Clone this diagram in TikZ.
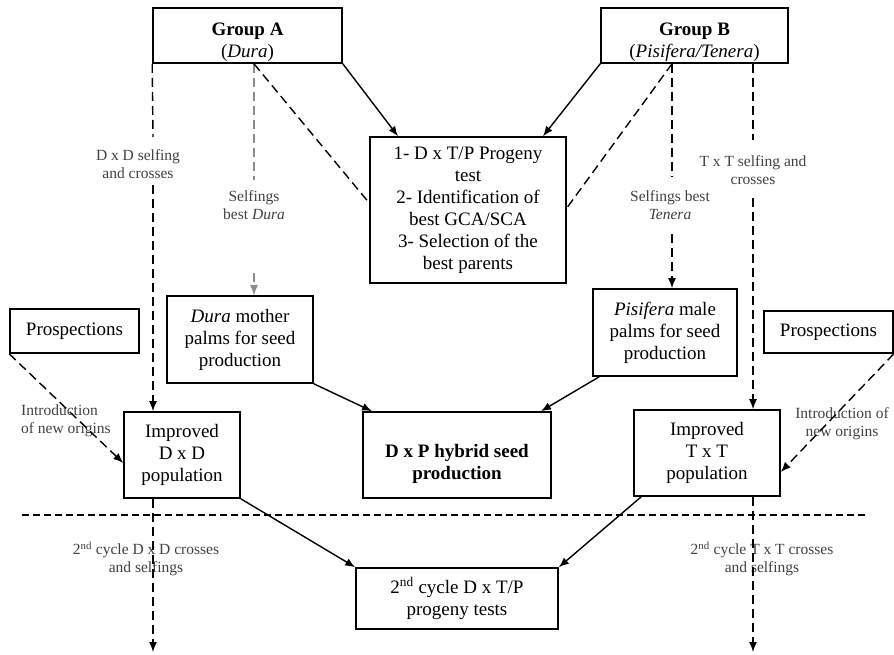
\documentclass[tikz,border=0pt]{standalone}
\usepackage{fontspec}
\setmainfont{Liberation Serif}
\usetikzlibrary{arrows.meta}

\begin{document}
\begin{tikzpicture}[x=1pt, y=-1pt,
		box/.style={draw, line width=1.6pt, inner sep=0pt, align=center, font=\fontsize{19}{22}\selectfont},
		lab/.style={align=center, inner sep=1pt, text=black!75, font=\fontsize{15.5}{18}\selectfont},
		tip/.style={-{Latex[length=10pt, width=8pt]}},
		link/.style={line width=1.4pt},
		dashlink/.style={line width=1.4pt, dash pattern=on 9pt off 5pt},
		graylink/.style={line width=1.2pt, black!45, dash pattern=on 9pt off 5pt}]
		\useasboundingbox (0,0) rectangle (894,654);
		% boxes
		\node [box, minimum width=189pt, minimum height=55pt] (groupA) at (247.5, 35.5) {\rule{0pt}{27pt}\textbf{Group A}\\(\textit{Dura})};
		\node [box, minimum width=187pt, minimum height=55pt] (groupB) at (694.5, 35.5) {\rule{0pt}{27pt}\textbf{Group B}\\(\textit{Pisifera/Tenera})};
		\node [box, minimum width=196pt, minimum height=146pt] (test) at (468, 210) {1- D x T/P Progeny\\test\\2- Identification of\\best GCA/SCA\\3- Selection of the\\best parents};
		\node [box, minimum width=146pt, minimum height=87pt] (dura) at (240, 339.5) {\textit{Dura} mother\\palms for seed\\production};
		\node [box, minimum width=144pt, minimum height=87pt] (pisif) at (665, 332.5) {\textit{Pisifera} male\\palms for seed\\production};
		\node [box, minimum width=129pt, minimum height=44pt] (prospL) at (74.5, 331) {Prospections};
		\node [box, minimum width=129pt, minimum height=42pt] (prospR) at (828.5, 332) {Prospections};
		\node [box, minimum width=116pt, minimum height=86pt] (impD) at (182, 455) {Improved\\D x D\\population};
		\node [box, minimum width=188pt, minimum height=86pt] (dxp) at (457, 455) {\rule{0pt}{31pt}\textbf{D x P hybrid seed}\\\textbf{production}};
		\node [box, minimum width=146pt, minimum height=86pt] (impT) at (707, 453) {Improved\\T x T\\population};
		\node [box, minimum width=202pt, minimum height=61pt] (cyc) at (457, 598.5) {2\textsuperscript{nd} cycle D x T/P\\progeny tests};
		% labels
		\node [lab] (dxdLab) at (138, 164) {D x D selfing\\and crosses};
		\node [lab] (dselLab) at (254, 205) {Selfings\\best \textit{Dura}};
		\node [lab] (tselLab) at (670, 205) {Selfings best\\\textit{Tenera}};
		\node [lab] (txtLab) at (753, 170) {T x T selfing and\\crosses};
		\node [lab, align=left, anchor=west] (introL) at (20, 421) {Introduction\\of new origins};
		\node [lab] (introR) at (842, 424) {Introduction of\\new origins};
		\node [lab] (cycDLab) at (146, 559) {2\textsuperscript{nd} cycle D x D crosses\\and selfings};
		\node [lab] (cycTLab) at (762, 559) {2\textsuperscript{nd} cycle T x T crosses\\and selfings};
		% gap ends of the labelled lines
		\coordinate (dxdTop) at (153, 137);
		\coordinate (dxdBot) at (153, 185);
		\coordinate (dselTop) at (254, 180);
		\coordinate (dselBot) at (254, 273);
		\coordinate (tselTop) at (672, 176);
		\coordinate (tselBot) at (672, 234);
		\coordinate (txtTop) at (753, 140);
		\coordinate (txtBot) at (753, 198);
		\coordinate (dxdEnd) at (153, 652);
		\coordinate (txtEnd) at (753, 652);
		% group A
		\draw [dashlink] (groupA.south west) -- (dxdTop);
		\draw [dashlink, tip] (dxdBot) -- (impD.north -| dxdBot);
		\draw [graylink] (groupA.south -| dselTop) -- (dselTop);
		\draw [graylink, tip] (dselBot) -- (dura.north -| dselBot);
		\draw [dashlink] (groupA.south -| dselTop) -- ([yshift=7pt]test.west);
		\draw [link, tip] (groupA.south east) -- ([xshift=-70pt]test.north);
		% group B
		\draw [link, tip] (groupB.south west) -- ([xshift=75pt]test.north);
		\draw [dashlink] (groupB.south -| tselTop) -- ([yshift=2pt]test.east);
		\draw [dashlink] (groupB.south -| tselTop) -- (tselTop);
		\draw [dashlink, tip] (tselBot) -- (pisif.north -| tselBot);
		\draw [dashlink] (groupB.south -| txtTop) -- (txtTop);
		\draw [dashlink, tip] (txtBot) -- (impT.north -| txtBot);
		% seed production
		\draw [link, tip] (dura.south east) -- ([xshift=-85pt]dxp.north);
		\draw [link, tip] ([xshift=7pt]pisif.south west) -- ([xshift=84pt]dxp.north);
		% prospections
		\draw [dashlink, tip] (prospL.south west) -- ([yshift=-8pt]impD.west);
		\draw [dashlink, tip] (prospR.south east) -- ([yshift=-19pt]impT.east);
		% second cycle
		\draw [line width=1.2pt, dash pattern=on 7pt off 4pt] (22, 515) -- (868, 515);
		\draw [link, tip] (impD.south east) -- (cyc.north west);
		\draw [link, tip] ([xshift=8pt]impT.south west) -- (cyc.north east);
		\draw [dashlink, tip] (impD.south -| dxdEnd) -- (dxdEnd);
		\draw [dashlink, tip] (impT.south -| txtEnd) -- (txtEnd);
	\end{tikzpicture}
\end{document}
